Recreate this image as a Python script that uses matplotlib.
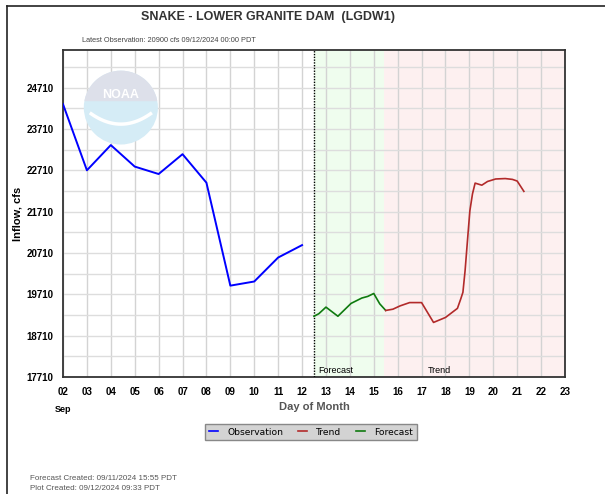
import numpy as np
import matplotlib
matplotlib.use('Agg')
import matplotlib.pyplot as plt
from matplotlib.patches import Ellipse, Polygon
from matplotlib.lines import Line2D

plt.rcParams['font.family'] = ['Liberation Sans', 'DejaVu Sans']

# observed inflow, cfs (day of September)
obs_day = [2, 3, 4, 5, 6, 7, 8, 9, 10, 11, 12]
obs_cfs = [24310, 22710, 23320, 22800, 22620, 23100, 22410, 19920, 20020, 20600, 20900]

# forecast, 6-hourly
fc_day = [12.5, 12.7, 13.0, 13.5, 14.05, 14.5, 14.75, 15.0, 15.25, 15.5]
fc_cfs = [19180, 19240, 19400, 19180, 19490, 19620, 19660, 19730, 19480, 19320]

# trend
tr_day = [15.5, 15.8, 16.1, 16.5, 17.0, 17.5, 18.0, 18.5, 18.64, 18.73, 18.82,
          18.92, 19.02, 19.13, 19.24, 19.52, 19.76, 20.1, 20.5, 20.8, 21.0, 21.28]
tr_cfs = [19320, 19350, 19430, 19510, 19510, 19030, 19150, 19370, 19600, 19760, 20280,
          21010, 21730, 22140, 22400, 22350, 22440, 22500, 22510, 22490, 22450, 22200]

day_ticks = list(range(2, 24))
day_labels = ['%02d' % d for d in day_ticks]
cfs_ticks = [17710, 18710, 19710, 20710, 21710, 22710, 23710, 24710]

obs_end = 12.5
fc_end = 15.42
x_min, x_max = 2, 23
y_min, y_max = 17710, 25620

fig = plt.figure(figsize=(6.05, 4.94), dpi=100)
ax = fig.add_axes([63/605, 1-377/494, (565-63)/605, (377-50)/494])

ax.axvspan(obs_end, fc_end, color='#effdee', zorder=0, lw=0)
ax.axvspan(fc_end, x_max, color='#fdf0f0', zorder=0, lw=0)

for d in day_ticks:
    ax.axvline(d, color='#d3d3d3', lw=1, zorder=1)
for v in np.arange(y_min, y_max, 500):
    ax.axhline(v, color='#dddddd', lw=1, zorder=1)

# NOAA watermark
cx, cy = 4.42, 24227
w, h = 3.10, 1787
ax.add_patch(Ellipse((cx, cy), w, h, facecolor='#d5ecf6', edgecolor='none', zorder=1.5))
t = np.linspace(np.radians(10), np.radians(170), 60)
top = np.column_stack([cx + w/2*np.cos(t), cy + h/2*np.sin(t)])
ax.add_patch(Polygon(top, closed=True, facecolor='#dde0ea', edgecolor='none', zorder=1.6))
ax.text(cx, cy + 300, 'NOAA', color='white', fontsize=9, fontweight='bold',
        ha='center', va='center', zorder=1.7)
sw = np.linspace(-1, 1, 40)
ax.plot(cx + sw*w*0.40, cy - 150 - 250*(1-sw**2), color='white', lw=2.5, zorder=1.7)

ax.axvline(obs_end, color='black', lw=1, ls=(0, (1, 1)), zorder=3)

ax.plot(obs_day, obs_cfs, color='#0000ff', lw=1.4, zorder=4)
ax.plot(fc_day, fc_cfs, color='#0f7a0f', lw=1.2, zorder=4)
ax.plot(tr_day, tr_cfs, color='#b22a2a', lw=1.2, zorder=4)

ax.text(13.4, y_min + 40, 'Forecast', fontsize=6.5, ha='center', va='bottom', zorder=5)
ax.text(17.75, y_min + 40, 'Trend', fontsize=6.5, ha='center', va='bottom', zorder=5)

ax.set_xlim(x_min, x_max)
ax.set_ylim(y_min, y_max)
ax.set_xticks(day_ticks)
ax.set_xticklabels(day_labels, fontsize=7, fontweight='bold')
ax.set_yticks(cfs_ticks)
ax.set_yticklabels([str(v) for v in cfs_ticks], fontsize=7, fontweight='bold')
ax.tick_params(length=0, pad=7)
for s in ax.spines.values():
    s.set_color('#333333')
    s.set_linewidth(1.3)

ax.set_xlabel('Day of Month', fontsize=8, fontweight='bold', color='#555555', labelpad=4)
ax.set_ylabel('Inflow, cfs', fontsize=8, fontweight='bold')
ax.yaxis.set_label_coords(-40/502, 0.5)

fig.text(63/605, 1-410/494, 'Sep', fontsize=6.5, fontweight='bold', ha='center', va='center')
fig.text(268/605, 1-17/494, 'SNAKE - LOWER GRANITE DAM  (LGDW1)', fontsize=9,
         fontweight='bold', color='#333333', ha='center', va='center')
fig.text(82/605, 1-40/494, 'Latest Observation: 20900 cfs 09/12/2024 00:00 PDT',
         fontsize=5.3, color='#444444', ha='left', va='center')
fig.text(30/605, 1-478/494, 'Forecast Created: 09/11/2024 15:55 PDT', fontsize=5.8,
         color='#555555', ha='left', va='center')
fig.text(30/605, 1-488/494, 'Plot Created: 09/12/2024 09:33 PDT', fontsize=5.8,
         color='#555555', ha='left', va='center')

fig.add_artist(Line2D([7/605, 7/605], [0, 1-6/494], color='#222222', lw=1.2))
fig.add_artist(Line2D([7/605, 1], [1-6/494, 1-6/494], color='#222222', lw=1.2))

handles = [Line2D([], [], color='#0000ff', lw=1.2),
           Line2D([], [], color='#b22a2a', lw=1.2),
           Line2D([], [], color='#0f7a0f', lw=1.2)]
leg = fig.legend(handles, ['Observation', 'Trend', 'Forecast'], ncol=3,
                 loc='center', bbox_to_anchor=(311/605, 1-432/494),
                 prop={'family': 'DejaVu Sans', 'size': 6.6}, frameon=True,
                 fancybox=False, handlelength=1.0, columnspacing=1.6, handletextpad=1,
                 borderpad=0.4)
leg.get_frame().set_facecolor('#d3d3d3')
leg.get_frame().set_edgecolor('#888888')
leg.get_frame().set_alpha(1)

fig.savefig('out.png', dpi=100)
